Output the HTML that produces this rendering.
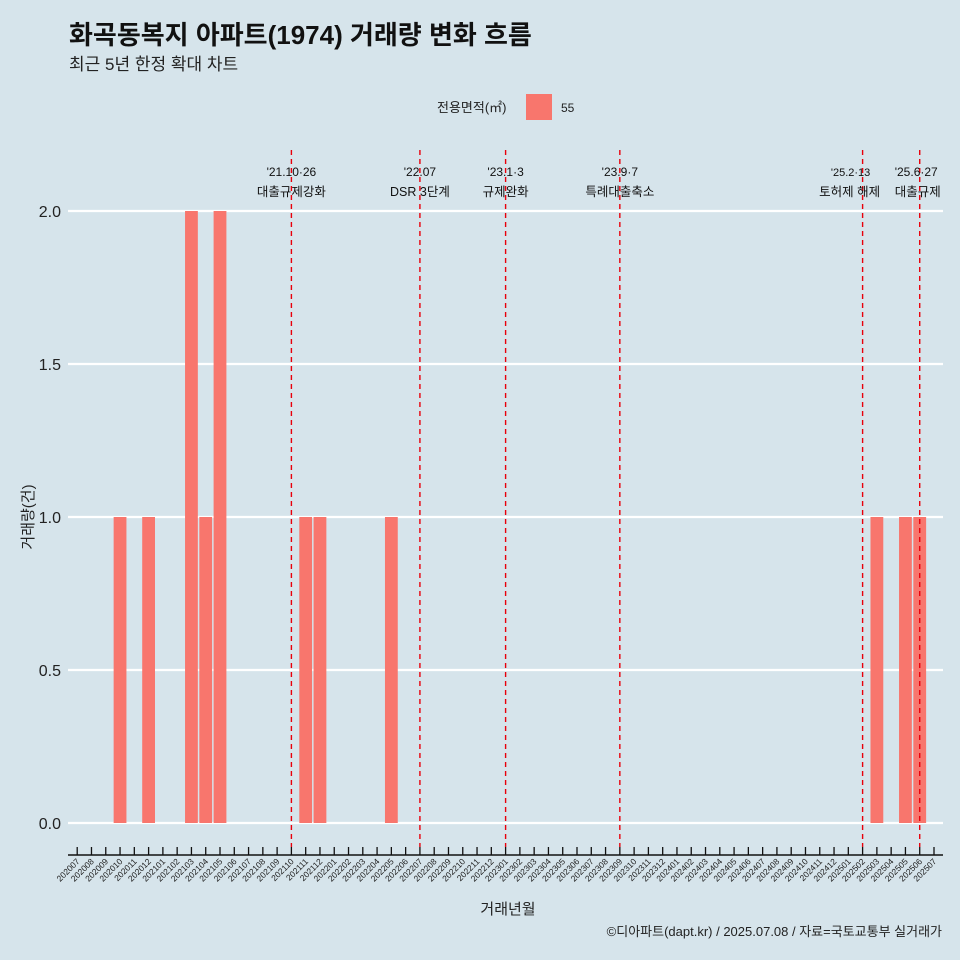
<!DOCTYPE html>
<html><head><meta charset="utf-8"><style>
body{margin:0;background:#d6e4eb;}
svg{display:block;font-family:"Liberation Sans","Noto Sans CJK KR",sans-serif;}
</style></head><body>
<svg id="chart" width="960" height="960" viewBox="0 0 960 960" xmlns="http://www.w3.org/2000/svg">
<rect width="960" height="960" fill="#d6e4eb"/>
<text x="69" y="44" font-size="26" font-weight="bold" fill="#111">화곡동복지 아파트(1974) 거래량 변화 흐름</text>
<text x="69" y="70" font-size="17" fill="#222">최근 5년 한정 확대 차트</text>
<g>
<text x="437" y="112" font-size="13" fill="#222">전용면적(㎡)</text>
<rect x="526" y="94" width="26" height="26" fill="#f8766d"/>
<text x="561" y="112" font-size="12" fill="#222">55</text>
</g>
<g id="grid"></g><g id="bars"></g><g id="events"></g><g id="xaxis"></g><g id="yaxis"></g>
<text x="508" y="914" font-size="15" text-anchor="middle" fill="#222">거래년월</text>
<text transform="translate(33,517) rotate(-90)" font-size="15" text-anchor="middle" fill="#222">거래량(건)</text>
<text x="942" y="936" font-size="13" text-anchor="end" fill="#222">©디아파트(dapt.kr) / 2025.07.08 / 자료=국토교통부 실거래가</text>
</svg>
<script>
const months = [];
for (let y = 2020; y <= 2025; y++) for (let m = 1; m <= 12; m++) { const k = y * 100 + m; if (k >= 202007 && k <= 202507) months.push(String(k)); }
const barMonths = ["202010","202012","202103","202104","202105","202111","202112","202205","202503","202505","202506"];
const barValues = [1,1,2,1,2,1,1,1,1,1,1];
const yTicks = [0, 0.5, 1, 1.5, 2];
const yTickLabels = ["0.0","0.5","1.0","1.5","2.0"];
const eventMonths = ["202110","202207","202301","202309","202502","202506"];
const eventDates = ["'21.10·26","'22.07","'23.1·3","'23.9·7","'25.2·13","'25.6·27"];
const eventNames = ["대출규제강화","DSR 3단계","규제완화","특례대출축소","토허제 해제","대출규제"];

const NS = "http://www.w3.org/2000/svg";
const step = 14.28, x0 = 77.2;
const xPos = m => x0 + months.indexOf(m) * step;
const yPos = v => 823 - v * 306;
function mk(tag, attrs, parent, txt) {
  const e = document.createElementNS(NS, tag);
  for (const k in attrs) e.setAttribute(k, attrs[k]);
  if (txt !== undefined) e.textContent = txt;
  document.getElementById(parent).appendChild(e);
  return e;
}
yTicks.forEach((t, i) => {
  const l = mk("line", {x1: 68, x2: 943, y1: yPos(t), y2: yPos(t), stroke: "#fff", "stroke-width": 2.2}, "grid");
  
  
  const tx = mk("text", {x: 61, y: yPos(t) + 6, "font-size": 16, "text-anchor": "end", fill: "#222"}, "yaxis", yTickLabels[i]);
  
  
});
barMonths.forEach((m, i) => {
  const b = mk("rect", {x: xPos(m) - 6.4, y: yPos(barValues[i]), width: 12.8, height: yPos(0) - yPos(barValues[i]), fill: "#f8766d"}, "bars");
  
  
});
eventMonths.forEach((m, i) => {
  const x = xPos(m);
  const l = mk("line", {x1: x, x2: x, y1: 150, y2: 847, stroke: "#e8000b", "stroke-width": 1.4, "stroke-dasharray": "5,4"}, "events");
  
  
  const small = m === "202502";
  const anchor = m === "202506" ? "start" : "middle";
  const dx = m === "202506" ? -25 : (small ? -12 : 0);
  const t1 = mk("text", {x: x + dx, y: 176, "font-size": small ? 11 : 12, "text-anchor": anchor, fill: "#111"}, "events", eventDates[i]);
  
  
  const t2 = mk("text", {x: x + (m === "202506" ? -25 : (small ? -13 : 0)), y: 196, "font-size": 12.5, "text-anchor": anchor, fill: "#111"}, "events", eventNames[i]);
  
  
});
const ax = mk("line", {x1: 68, x2: 943, y1: 855, y2: 855, stroke: "#111", "stroke-width": 1.5}, "xaxis");


months.forEach(m => {
  const x = xPos(m);
  const t = mk("line", {x1: x, x2: x, y1: 847, y2: 855, stroke: "#111", "stroke-width": 1.3}, "xaxis");
  
  
  const lb = mk("text", {transform: `translate(${x + 3},${862}) rotate(-45)`, "font-size": 8.5, "text-anchor": "end", fill: "#222"}, "xaxis", m);
  
  
});
</script>
</body></html>
